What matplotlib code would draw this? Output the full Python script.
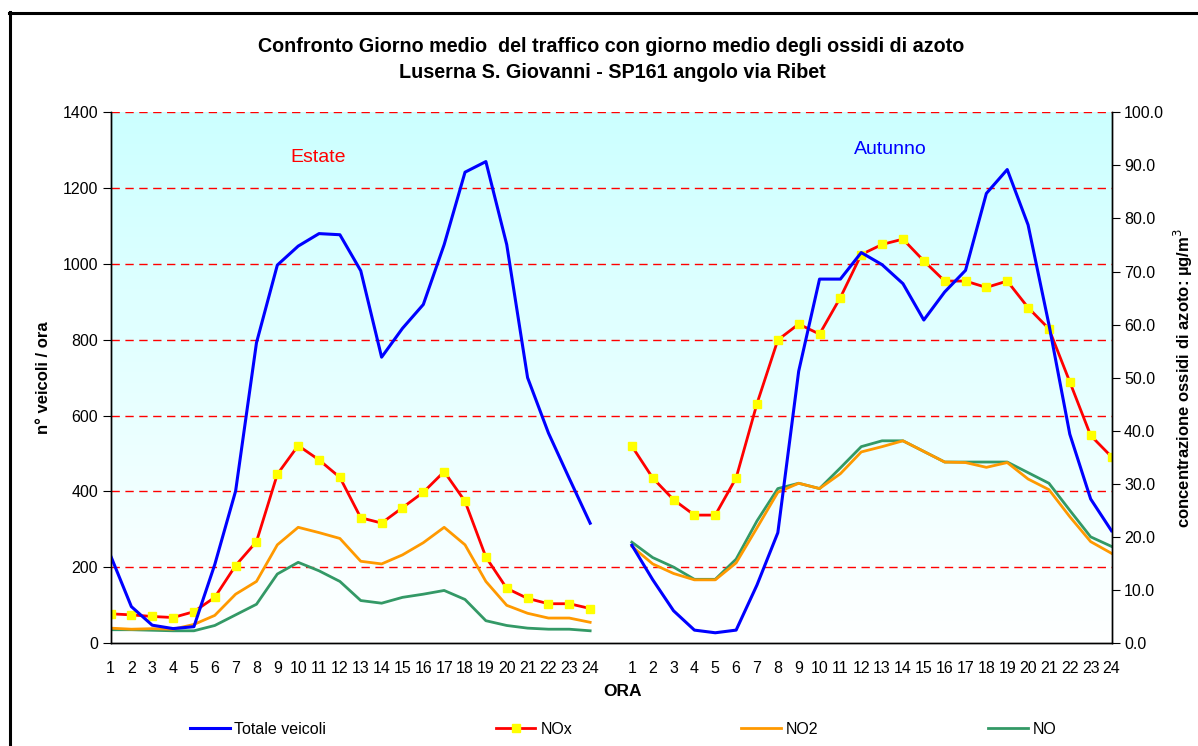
import numpy as np
import matplotlib
matplotlib.use('Agg')
import matplotlib.pyplot as plt
from matplotlib.lines import Line2D

plt.rcParams['font.family'] = ['Liberation Sans', 'DejaVu Sans']

# Ore del giorno (due blocchi: Estate e Autunno)
ore = list(range(1, 25))

# Estate
veicoli_estate = [231, 96, 47, 38, 43, 207, 401, 792, 997, 1047, 1080, 1077,
                  982, 754, 830, 893, 1051, 1242, 1270, 1051, 700, 554, 434, 316]
nox_estate = [5.5, 5.3, 5.0, 4.8, 5.9, 8.6, 14.6, 19.1, 31.8, 37.2, 34.5, 31.2,
              23.6, 22.6, 25.5, 28.4, 32.3, 26.7, 16.2, 10.3, 8.4, 7.4, 7.4, 6.5]
no2_estate = [2.8, 2.6, 2.7, 2.6, 3.5, 5.2, 9.2, 11.6, 18.5, 21.8, 20.8, 19.7,
              15.4, 14.9, 16.6, 18.9, 21.8, 18.5, 11.6, 7.1, 5.6, 4.7, 4.7, 3.9]
no_estate = [2.5, 2.5, 2.4, 2.3, 2.3, 3.3, 5.3, 7.3, 13.0, 15.2, 13.6, 11.6,
             8.0, 7.5, 8.6, 9.2, 9.9, 8.2, 4.2, 3.3, 2.8, 2.6, 2.6, 2.3]

# Autunno
veicoli_autunno = [258, 167, 85, 34, 27, 34, 153, 291, 717, 960, 960, 1030,
                   998, 948, 852, 926, 983, 1186, 1249, 1103, 840, 551, 380, 296]
nox_autunno = [37.1, 31.1, 27.0, 24.1, 24.1, 31.1, 45.1, 57.1, 60.1, 58.2, 65.1, 73.2,
               75.1, 76.1, 72.0, 68.2, 68.2, 67.0, 68.2, 63.2, 59.2, 49.2, 39.1, 35.1]
no2_autunno = [18.2, 14.9, 13.1, 11.9, 11.9, 15.1, 21.7, 28.4, 30.1, 29.1, 31.9, 36.0,
               37.0, 38.1, 36.1, 34.1, 34.0, 33.1, 34.0, 30.9, 28.9, 23.8, 19.1, 16.9]
no_autunno = [19.0, 16.1, 14.3, 12.0, 12.0, 15.8, 23.0, 29.1, 30.1, 29.1, 33.0, 37.0,
              38.1, 38.1, 36.1, 34.1, 34.1, 34.1, 34.1, 32.1, 30.1, 25.0, 20.0, 18.2]


def unisci(a, b):
    # categoria vuota tra le due stagioni
    return np.array(list(a) + [np.nan] + list(b), dtype=float)


veicoli = unisci(veicoli_estate, veicoli_autunno)
nox = unisci(nox_estate, nox_autunno)
no2 = unisci(no2_estate, no2_autunno)
no = unisci(no_estate, no_autunno)
etichette = [str(h) for h in ore] + [''] + [str(h) for h in ore]
x = np.arange(len(etichette))

W, H = 1198, 746
fig = plt.figure(figsize=(W / 100, H / 100), dpi=100)

# cornice del grafico
fig.add_artist(Line2D([9.5 / W, 9.5 / W], [0, 1 - 12 / H], transform=fig.transFigure,
                      color='black', lw=2.2))
fig.add_artist(Line2D([8.5 / W, 1], [1 - 12.5 / H, 1 - 12.5 / H], transform=fig.transFigure,
                      color='black', lw=2.2))

left, right, top, bottom = 110.5, 1111.5, 112.3, 643
rect = [left / W, (H - bottom) / H, (right - left) / W, (bottom - top) / H]

# asse di sfondo: sfumatura azzurro -> bianco e griglia tratteggiata
bg = fig.add_axes(rect, zorder=0)
grad = np.linspace(0, 1, 256).reshape(-1, 1)
c_top = np.array([0.80, 1.0, 1.0])
c_bot = np.array([1.0, 1.0, 1.0])
img = c_top[None, None, :] * (1 - grad[:, :, None]) + c_bot[None, None, :] * grad[:, :, None]
bg.imshow(img, extent=[0, 1, 0, 1], transform=bg.transAxes, aspect='auto')
bg.set_xlim(0, len(etichette) - 1)
bg.set_ylim(0, 1400)
for yv in range(200, 1401, 200):
    bg.axhline(yv, color='#FF0000', lw=1.0, ls=(0, (6, 4)))
bg.axis('off')

# asse veicoli (sinistra), sopra quello degli ossidi
ax = fig.add_axes(rect, zorder=2)
ax.patch.set_visible(False)
ax2 = ax.twinx()
ax2.set_zorder(1)
ax2.patch.set_visible(False)

ax.set_xlim(0, len(etichette) - 1)
ax.set_ylim(0, 1400)
ax.set_yticks(range(0, 1401, 200))
ax.plot(x, veicoli, color='#0000FF', lw=2.2)

ax2.set_ylim(0, 100)
ax2.set_yticks(range(0, 101, 10))
ax2.set_yticklabels([f'{v:.1f}' for v in range(0, 101, 10)])
ax2.plot(x, no, color='#339966', lw=2.0)
ax2.plot(x, no2, color='#FF9900', lw=2.0)
ax2.plot(x, nox, color='#FF0000', lw=2.0, marker='s', markersize=6,
         markerfacecolor='#FFFF00', markeredgecolor='#FFFF00')

ax.set_xticks(x)
ax.set_xticklabels(etichette)
ax.tick_params(axis='x', length=0, pad=13, labelsize=11.5)
ax.tick_params(axis='y', direction='out', length=6, labelsize=11.5, pad=3)
ax2.tick_params(axis='y', direction='out', length=6, labelsize=11.5, pad=3)

for a in (ax, ax2):
    a.spines['top'].set_visible(False)
    for s in ('left', 'right', 'bottom'):
        a.spines[s].set_linewidth(1.0)

fig.text(318 / W, 1 - 158 / H, 'Estate', color='#FF0000',
         fontsize=14, ha='center', va='center')
fig.text(890 / W, 1 - 150 / H, 'Autunno', color='#0000FF',
         fontsize=14, ha='center', va='center')

fig.text(611 / W, 1 - 46 / H, 'Confronto Giorno medio  del traffico con giorno medio degli ossidi di azoto',
         ha='center', va='center', fontsize=14.2, fontweight='bold')
fig.text(612 / W, 1 - 73 / H, 'Luserna S. Giovanni - SP161 angolo via Ribet',
         ha='center', va='center', fontsize=14.2, fontweight='bold')

fig.text(622 / W, 1 - 692 / H, 'ORA', ha='center', va='center', fontsize=12.5, fontweight='bold')
fig.text(43 / W, 1 - 378 / H, 'n° veicoli / ora', rotation=90, ha='center', va='center',
         fontsize=12, fontweight='bold')
fig.text(1183 / W, 1 - 378 / H, 'concentrazione ossidi di azoto: µg/m$^3$', rotation=90,
         ha='center', va='center', fontsize=12, fontweight='bold')

handles = [
    Line2D([], [], color='#0000FF', lw=2.2),
    Line2D([], [], color='#FF0000', lw=2.0, marker='s', markersize=6,
           markerfacecolor='#FFFF00', markeredgecolor='#FFFF00'),
    Line2D([], [], color='#FF9900', lw=2.0),
    Line2D([], [], color='#339966', lw=2.0),
]
fig.legend(handles, ['Totale veicoli', 'NOx', 'NO2', 'NO'], loc='center',
           bbox_to_anchor=(623 / W, 1 - 729 / H), ncol=4, frameon=False,
           fontsize=11.5, handlelength=2.5, handletextpad=0.3, columnspacing=10.6)

fig.savefig('out.png', dpi=100)
